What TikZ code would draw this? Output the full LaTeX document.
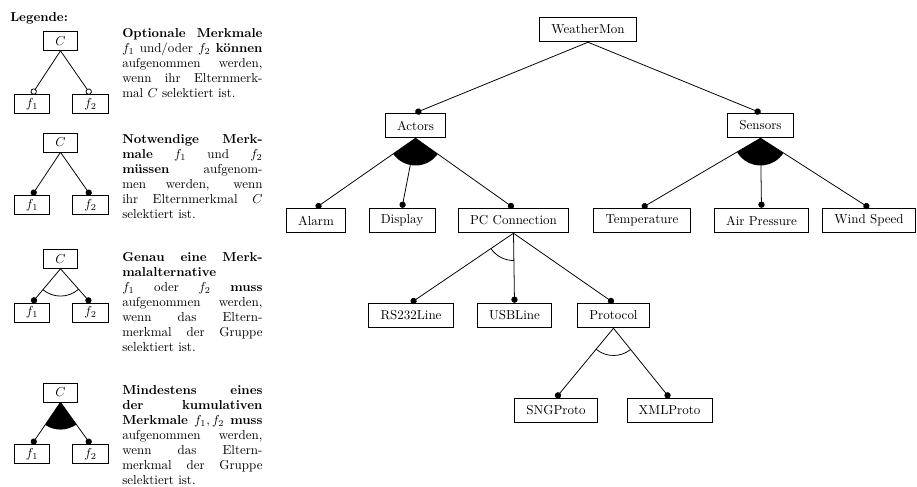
\documentclass[tikz,border=0pt]{standalone}
\usetikzlibrary{arrows.meta,calc}

\tikzset{
  feature/.style={draw, line width=0.6pt, minimum height=19pt, inner xsep=9pt, inner ysep=2pt},
  legfeature/.style={draw, line width=0.6pt, minimum height=14.5pt, inner xsep=9pt, inner ysep=2pt},
  edge/.style={line width=0.6pt},
  mandatory/.style={edge, -{Circle[length=4.8pt]}},
  optional/.style={edge, -{Circle[open,length=4.8pt]}},
  legtext/.style={anchor=north west, inner sep=0pt, text width=108pt, align=justify,
    font={\linespread{0.96}\selectfont}},
}

% feature groups: #1 parent, #2 first child, #3 last child
\newcommand{\orgroup}[3]{%
  \fill let \p1=($(#2.north)-(#1.south)$), \p2=($(#3.north)-(#1.south)$),
    \n1={atan2(\y1,\x1)}, \n2={atan2(\y2,\x2)} in
    (#1.south) -- ++(\n1:21pt) arc[start angle=\n1, end angle=\n2, radius=21pt] -- cycle;}
\newcommand{\altgroup}[3]{%
  \draw[edge] let \p1=($(#2.north)-(#1.south)$), \p2=($(#3.north)-(#1.south)$),
    \n1={atan2(\y1,\x1)}, \n2={atan2(\y2,\x2)} in
    (#1.south) ++(\n1:21pt) arc[start angle=\n1, end angle=\n2, radius=21pt];}

\begin{document}
\begin{tikzpicture}[x=0.77pt, y=-0.77pt]
  \useasboundingbox (0,0) rectangle (917,487);

  % legend
  \node[anchor=north west, inner sep=0pt, font=\bfseries] (legtitle) at (10,12) {Legende:};

  \node[legfeature] (c1) at (60.5,41) {$C$};
  \node[legfeature] (c1a) at (32,104) {$f_1$};
  \node[legfeature] (c1b) at (90.5,104) {$f_2$};
  \draw[optional] (c1.south) -- (c1a.north);
  \draw[optional] (c1.south) -- (c1b.north);
  \node[legtext] (t1) at (122,28) {\textbf{Optionale Merkmale}\linebreak
    $f_1$ und/oder $f_2$ \textbf{können}\linebreak aufgenommen werden,\linebreak
    wenn ihr Elternmerk-\linebreak mal $C$ selektiert ist.};

  \node[legfeature] (c2) at (60.5,142.5) {$C$};
  \node[legfeature] (c2a) at (32,205) {$f_1$};
  \node[legfeature] (c2b) at (90.5,205) {$f_2$};
  \draw[mandatory] (c2.south) -- (c2a.north);
  \draw[mandatory] (c2.south) -- (c2b.north);
  \node[legtext] (t2) at (122,134) {\textbf{Notwendige Merk-}\linebreak
    \textbf{male} $f_1$ und $f_2$\linebreak \textbf{müssen} aufgenom-\linebreak
    men werden, wenn\linebreak ihr Elternmerkmal $C$\linebreak selektiert ist.};

  \node[legfeature] (c3) at (60.5,259) {$C$};
  \node[legfeature] (c3a) at (32,312.5) {$f_1$};
  \node[legfeature] (c3b) at (90.5,312.5) {$f_2$};
  \draw[mandatory] (c3.south) -- (c3a.north);
  \draw[mandatory] (c3.south) -- (c3b.north);
  \altgroup{c3}{c3a}{c3b}
  \node[legtext] (t3) at (122,252) {\textbf{Genau eine Merk-}\linebreak
    \textbf{malalternative}\\ $f_1$ oder $f_2$ \textbf{muss}\linebreak
    aufgenommen werden,\linebreak wenn das Eltern-\linebreak
    merkmal der Gruppe\linebreak selektiert ist.};

  \node[legfeature] (c4) at (60.5,392.5) {$C$};
  \node[legfeature] (c4a) at (32,454) {$f_1$};
  \node[legfeature] (c4b) at (90.5,454) {$f_2$};
  \draw[mandatory] (c4.south) -- (c4a.north);
  \draw[mandatory] (c4.south) -- (c4b.north);
  \orgroup{c4}{c4a}{c4b}
  \node[legtext] (t4) at (122,385) {\textbf{Mindestens eines}\linebreak
    \textbf{der kumulativen}\linebreak \textbf{Merkmale} $f_1, f_2$ \textbf{muss}\linebreak
    aufgenommen werden,\linebreak wenn das Eltern-\linebreak
    merkmal der Gruppe\linebreak selektiert ist.};

  % feature tree
  \node[feature] (weathermon) at (588,29.5) {WeatherMon};
  \node[feature] (actors) at (415.5,125.5) {Actors};
  \node[feature] (sensors) at (760.5,125.5) {Sensors};
  \node[feature] (alarm) at (316,220.5) {Alarm};
  \node[feature] (display) at (402,220.5) {Display};
  \node[feature] (pcconn) at (513.5,220.5) {PC Connection};
  \node[feature] (temperature) at (642,220.5) {Temperature};
  \node[feature] (airpressure) at (761.5,220.5) {Air Pressure};
  \node[feature] (windspeed) at (869,220.5) {Wind Speed};
  \node[feature] (rs232) at (411,315.5) {RS232Line};
  \node[feature] (usbline) at (514.5,315.5) {USBLine};
  \node[feature] (protocol) at (613.5,315.5) {Protocol};
  \node[feature] (sngproto) at (556,410.5) {SNGProto};
  \node[feature] (xmlproto) at (669.5,410.5) {XMLProto};

  \draw[mandatory] (weathermon.south) -- (actors.north);
  \draw[mandatory] (weathermon.south) -- (sensors.north);

  \foreach \child in {alarm,display,pcconn}
    \draw[mandatory] (actors.south) -- (\child.north);
  \orgroup{actors}{alarm}{pcconn}

  \foreach \child in {temperature,airpressure,windspeed}
    \draw[mandatory] (sensors.south) -- (\child.north);
  \orgroup{sensors}{temperature}{windspeed}

  \foreach \child in {rs232,usbline,protocol}
    \draw[mandatory] (pcconn.south) -- (\child.north);
  \altgroup{pcconn}{rs232}{usbline}

  \foreach \child in {sngproto,xmlproto}
    \draw[mandatory] (protocol.south) -- (\child.north);
  \altgroup{protocol}{sngproto}{xmlproto}
\end{tikzpicture}
\end{document}
